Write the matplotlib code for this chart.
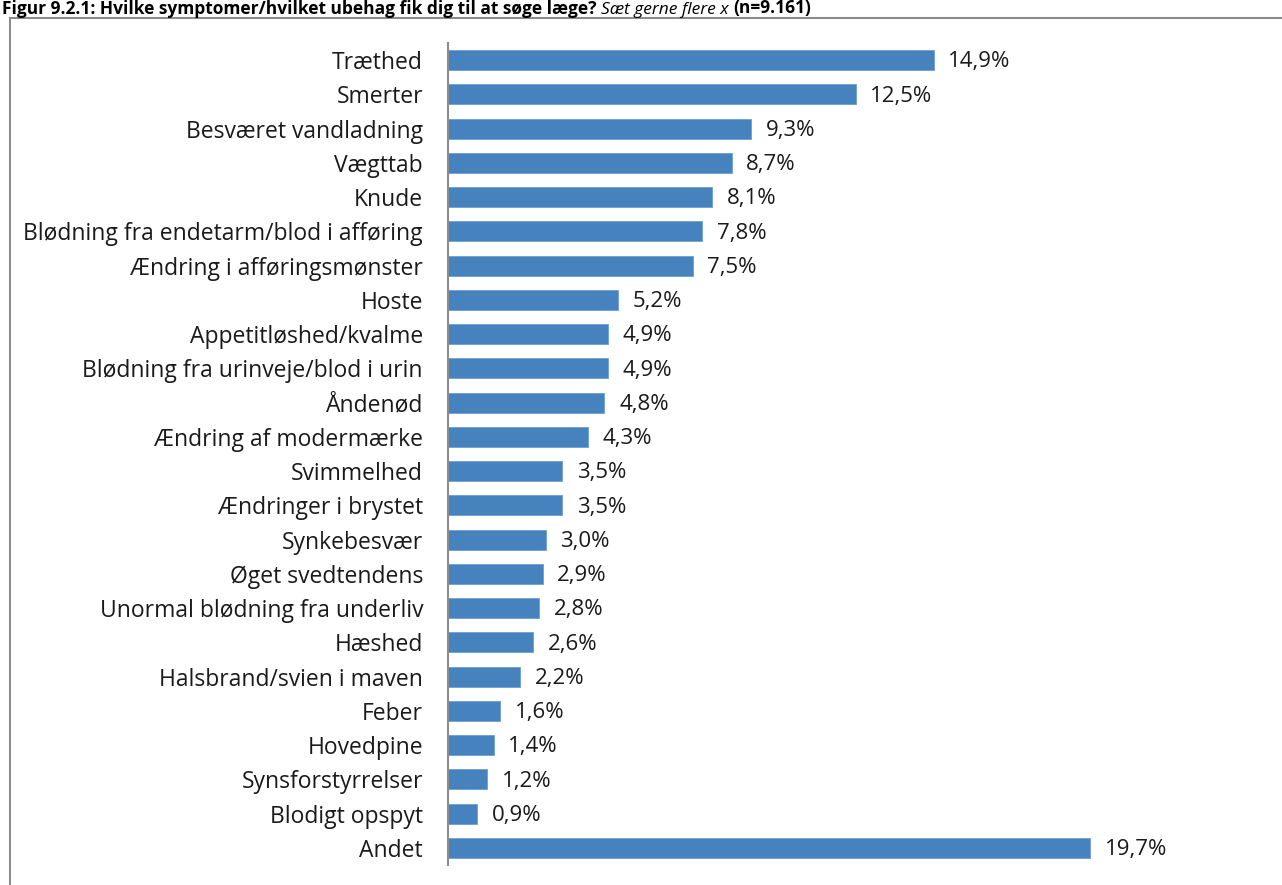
import matplotlib.pyplot as plt
from matplotlib.patches import Rectangle

plt.rcParams['font.family'] = ['Open Sans', 'DejaVu Sans']

symptoms = ['Træthed', 'Smerter', 'Besværet vandladning', 'Vægttab', 'Knude',
            'Blødning fra endetarm/blod i afføring', 'Ændring i afføringsmønster',
            'Hoste', 'Appetitløshed/kvalme', 'Blødning fra urinveje/blod i urin',
            'Åndenød', 'Ændring af modermærke', 'Svimmelhed', 'Ændringer i brystet',
            'Synkebesvær', 'Øget svedtendens', 'Unormal blødning fra underliv',
            'Hæshed', 'Halsbrand/svien i maven', 'Feber', 'Hovedpine',
            'Synsforstyrrelser', 'Blodigt opspyt', 'Andet']
pct = [14.9, 12.5, 9.3, 8.7, 8.1, 7.8, 7.5, 5.2, 4.9, 4.9, 4.8, 4.3, 3.5, 3.5,
       3.0, 2.9, 2.8, 2.6, 2.2, 1.6, 1.4, 1.2, 0.9, 19.7]

title_parts = [('Figur 9.2.1: Hvilke symptomer/hvilket ubehag fik dig til at søge læge? ', 'bold', 'normal'),
               ('Sæt gerne flere x ', 'normal', 'italic'),
               ('(n=9.161)', 'bold', 'normal')]

W, H = 1282, 885
fig = plt.figure(figsize=(W / 100, H / 100), dpi=100)

# outer frame around the chart
fig.patches.append(Rectangle((10 / W, -0.01), 1.0, 1 - 18 / H + 0.01,
                             transform=fig.transFigure, fill=False,
                             edgecolor='#8c8c8c', linewidth=1.5))

# title in three runs on a shared baseline: bold, italic, bold
fig.canvas.draw()
x0 = 2
for txt, weight, style in title_parts:
    t = fig.text(x0 / W, 1 - 13.5 / H, txt, fontsize=12.5, fontweight=weight,
                 fontstyle=style, va='baseline', ha='left')
    x0 = t.get_window_extent(fig.canvas.get_renderer()).x1

ax = fig.add_axes([448 / W, 1 - 865 / H, (1263 - 448) / W, (865 - 43) / H])
y = list(range(len(symptoms)))
ax.barh(y, pct, height=0.58, color='#4683be', edgecolor='#6a9fd0', linewidth=0.6)
for yi, v in zip(y, pct):
    ax.text(v + 0.45, yi + 0.05, f'{v:.1f}%'.replace('.', ','), va='center', ha='left',
            fontsize=16, color='#1a1a1a')

ax.set_yticks(y)
ax.set_yticklabels(symptoms, fontsize=16.5, color='#1a1a1a')
ax.set_ylim(len(symptoms) - 0.5, -0.5)
ax.set_xlim(0, 25)
ax.set_xticks([])
ax.tick_params(axis='y', length=0, pad=18)
for s in ['top', 'right', 'bottom']:
    ax.spines[s].set_visible(False)
ax.spines['left'].set_color('#8c8c8c')
ax.spines['left'].set_linewidth(1.5)

fig.savefig('out.png', dpi=100)
